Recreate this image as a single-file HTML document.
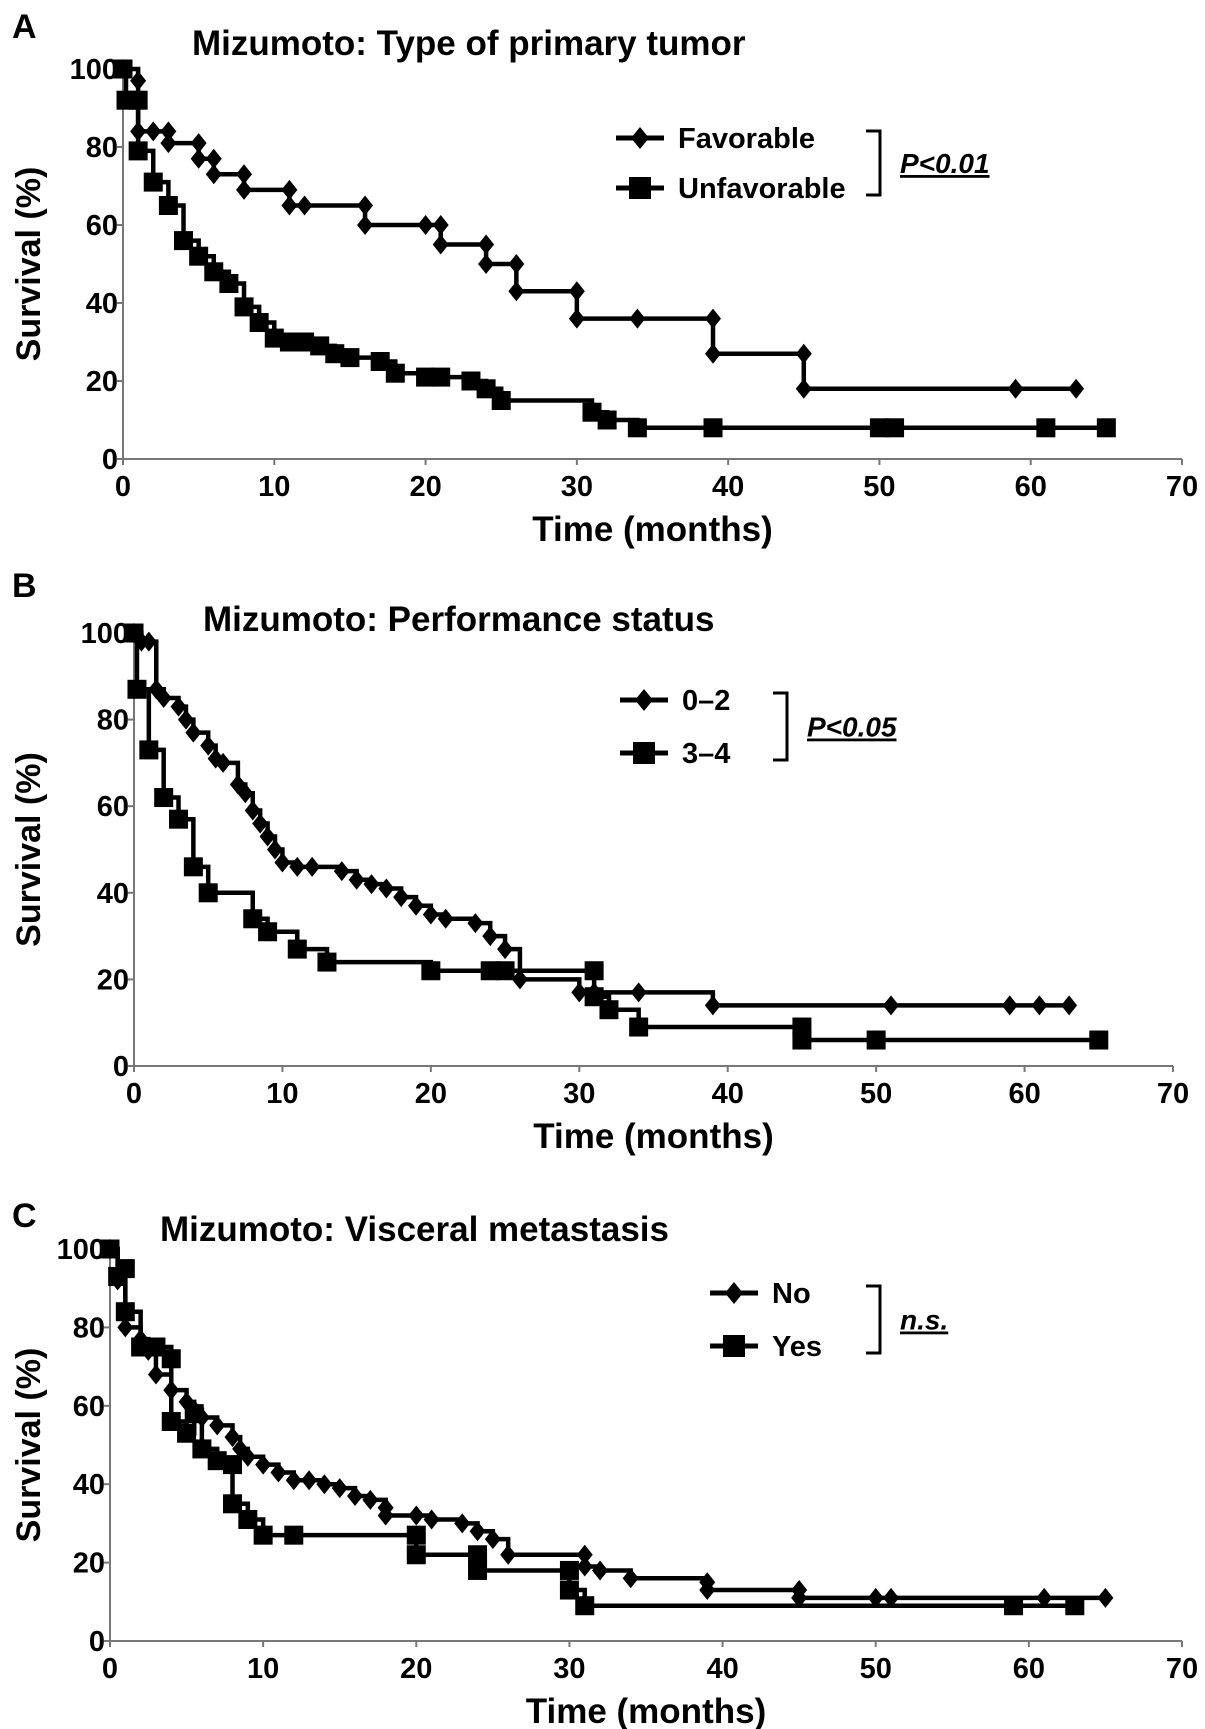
<!DOCTYPE html>
<html><head><meta charset="utf-8">
<style>
html,body{margin:0;padding:0;background:#fff;}
svg{display:block;}
text{font-family:"Liberation Sans Narrow","Liberation Sans",sans-serif;fill:#000;}
.b{font-family:"Liberation Sans",sans-serif;font-weight:bold;}
</style></head>
<body>
<svg id="fig" width="1205" height="1729" viewBox="0 0 1205 1729" xmlns="http://www.w3.org/2000/svg"></svg>
<script>
// Panel A
const aFavT = [0,1,1,2,3,3,5,5,6,6,8,8,11,11,12,16,16,20,21,21,24,24,26,26,30,30,34,39,39,45,45,59,63];
const aFavS = [100,97,84,84,84,81,81,77,77,73,73,69,69,65,65,65,60,60,60,55,55,50,50,43,43,36,36,36,27,27,18,18,18];
const aUnfT = [0,0.2,1,1,2,3,4,5,6,7,8,9,10,11,12,13,14,15,17,18,20,21,23,24,25,31,32,34,39,50,51,61,65];
const aUnfS = [100,92,92,79,71,65,56,52,48,45,39,35,31,30,30,29,27,26,25,22,21,21,20,18,15,12,10,8,8,8,8,8,8];
// Panel B
const b02T = [0,0.5,1,1.5,2,3,3.5,4,5,5.5,6,7,7.5,8,8.5,9,9.5,10,11,12,14,15,16,17,18,19,20,21,23,24,25,26,30,31,34,39,51,59,61,63];
const b02S = [100,98,98,87,85,83,80,77,74,71,70,65,63,59,56,53,50,47,46,46,45,43,42,41,39,37,35,34,33,30,27,20,17,17,17,14,14,14,14,14];
const b34T = [0,0.2,1,2,3,4,5,8,9,11,13,20,24,25,31,31,32,34,45,45,50,65];
const b34S = [100,87,73,62,57,46,40,34,31,27,24,22,22,22,22,16,13,9,9,6,6,6];
// Panel C
const cNoT = [0,0.5,1,2,2.5,3,4,5,5.5,6,7,8,8.5,9,10,11,12,13,14,15,16,17,18,18,20,21,23,24,25,26,31,31,32,34,39,39,45,45,50,51,61,65];
const cNoS = [100,92,80,77,74,68,64,61,59,57,55,52,49,47,45,43,41,41,40,39,37,36,34,32,32,31,30,28,26,22,22,19,18,16,15,13,13,11,11,11,11,11];
const cYesT = [0,0.5,1,1,2,3,4,4,5,5.5,6,7,8,8,9,10,12,20,20,24,24,30,30,31,59,63];
const cYesS = [100,93,95,84,75,75,72,56,53,58,49,46,45,35,31,27,27,27,22,22,18,18,13,9,9,9];

const xTicks = [0,10,20,30,40,50,60,70];
const yTicks = [0,20,40,60,80,100];

const NS = "http://www.w3.org/2000/svg";
const svg = document.getElementById('fig');
function el(tag, attrs, parent){const e=document.createElementNS(NS,tag);for(const k in attrs)e.setAttribute(k,attrs[k]);(parent||svg).appendChild(e);return e;}

function panel(p){
  const g = el('g',{});
  
  
  const sx = v => p.x0 + (p.x1-p.x0)*v/70;
  const sy = v => p.y0 + (p.y1-p.y0)*v/100;
  const ax = el('line',{x1:p.x0,y1:p.y0,x2:p.x1,y2:p.y0,stroke:'#777','stroke-width':2},g);
  
  
  const ay = el('line',{x1:p.x0,y1:p.y0,x2:p.x0,y2:p.y1,stroke:'#777','stroke-width':2},g);
  
  
  xTicks.forEach(v=>{
    el('line',{x1:sx(v),y1:p.y0,x2:sx(v),y2:p.y0+6,stroke:'#777','stroke-width':2},g);
    const t = el('text',{x:sx(v),y:p.y0+37,'text-anchor':'middle','font-size':29,'font-weight':'bold','fill':'#222'},g);
    t.textContent=v;
    
    
  });
  yTicks.forEach(v=>{
    el('line',{x1:p.x0-6,y1:sy(v),x2:p.x0,y2:sy(v),stroke:'#777','stroke-width':2},g);
    const t = el('text',{x:p.x0-5,y:sy(v)+10,'text-anchor':'end','font-size':29,'font-weight':'bold','fill':'#222'},g);
    t.textContent=v;
    
    
  });
  const lt = el('text',{x:12,y:p.letterY,'font-size':34,class:'b'},g);
  lt.textContent=p.id.toUpperCase();
  
  
  const tt = el('text',{x:p.titleX,y:p.titleY,'font-size':35,class:'b'},g);
  tt.textContent=p.title;
  
  
  const yl = el('text',{transform:`translate(40,${(p.y0+p.y1)/2}) rotate(-90)`,'text-anchor':'middle','font-size':34,class:'b'},g);
  yl.textContent='Survival (%)';
  
  
  const xl = el('text',{x:(p.x0+p.x1)/2,y:p.y0+82,'text-anchor':'middle','font-size':35,class:'b'},g);
  xl.textContent='Time (months)';
  
  

  p.series.forEach((s,si)=>{
    let d = `M${sx(s.t[0])},${sy(s.s[0])}`;
    for(let i=1;i<s.t.length;i++){ d += ` H${sx(s.t[i])} V${sy(s.s[i])}`; }
    const path = el('path',{d:d,fill:'none',stroke:'#000','stroke-width':4.5},g);
    
    
    for(let i=0;i<s.t.length;i++){
      const mx=sx(s.t[i]), my=sy(s.s[i]);
      let m;
      if(s.mark==='d') m = el('polygon',{points:`${mx},${my-10} ${mx+8},${my} ${mx},${my+10} ${mx-8},${my}`,fill:'#000'},g);
      else m = el('rect',{x:mx-9.5,y:my-9.5,width:19,height:19,fill:'#000'},g);
      
      
    }
    const ly = p.leg.y + si*p.leg.dy;
    const lg = el('g',{},g);
    
    
    el('line',{x1:p.leg.x,y1:ly,x2:p.leg.x+48,y2:ly,stroke:'#000','stroke-width':5},lg);
    const cx=p.leg.x+24;
    if(s.mark==='d') el('polygon',{points:`${cx},${ly-11} ${cx+9},${ly} ${cx},${ly+11} ${cx-9},${ly}`,fill:'#000'},lg);
    else el('rect',{x:cx-11,y:ly-11,width:22,height:22,fill:'#000'},lg);
    const lt2 = el('text',{x:p.leg.x+62,y:ly+10,'font-size':29,class:'b'},lg);
    lt2.textContent=s.label;
  });
  const bx = p.leg.bx, by1=p.leg.y-7, by2=p.leg.y+p.leg.dy+7;
  const br = el('path',{d:`M${bx},${by1} H${bx+14} V${by2} H${bx}`,fill:'none',stroke:'#000','stroke-width':3},g);
  
  
  const pv = el('text',{x:bx+34,y:(by1+by2)/2+10,'font-size':28,'font-style':'italic',class:'b','text-decoration':'underline'},g);
  pv.textContent=p.pval;
  
  
}

panel({id:'a',x0:123,x1:1182,y0:459,y1:69,letterY:38,titleX:192,titleY:55,title:'Mizumoto: Type of primary tumor',
  leg:{x:616,y:138,dy:50,bx:866},pval:'P<0.01',
  series:[{name:'favorable',label:'Favorable',t:aFavT,s:aFavS,mark:'d'},{name:'unfavorable',label:'Unfavorable',t:aUnfT,s:aUnfS,mark:'s'}]});
panel({id:'b',x0:134,x1:1173,y0:1066,y1:633,letterY:597,titleX:203,titleY:631,title:'Mizumoto: Performance status',
  leg:{x:620,y:700,dy:53,bx:773},pval:'P<0.05',
  series:[{name:'ps-0-2',label:'0–2',t:b02T,s:b02S,mark:'d'},{name:'ps-3-4',label:'3–4',t:b34T,s:b34S,mark:'s'}]});
panel({id:'c',x0:110,x1:1182,y0:1641,y1:1249,letterY:1227,titleX:160,titleY:1241,title:'Mizumoto: Visceral metastasis',
  leg:{x:710,y:1293,dy:53,bx:866},pval:'n.s.',
  series:[{name:'no',label:'No',t:cNoT,s:cNoS,mark:'d'},{name:'yes',label:'Yes',t:cYesT,s:cYesS,mark:'s'}]});
</script>
</body></html>
